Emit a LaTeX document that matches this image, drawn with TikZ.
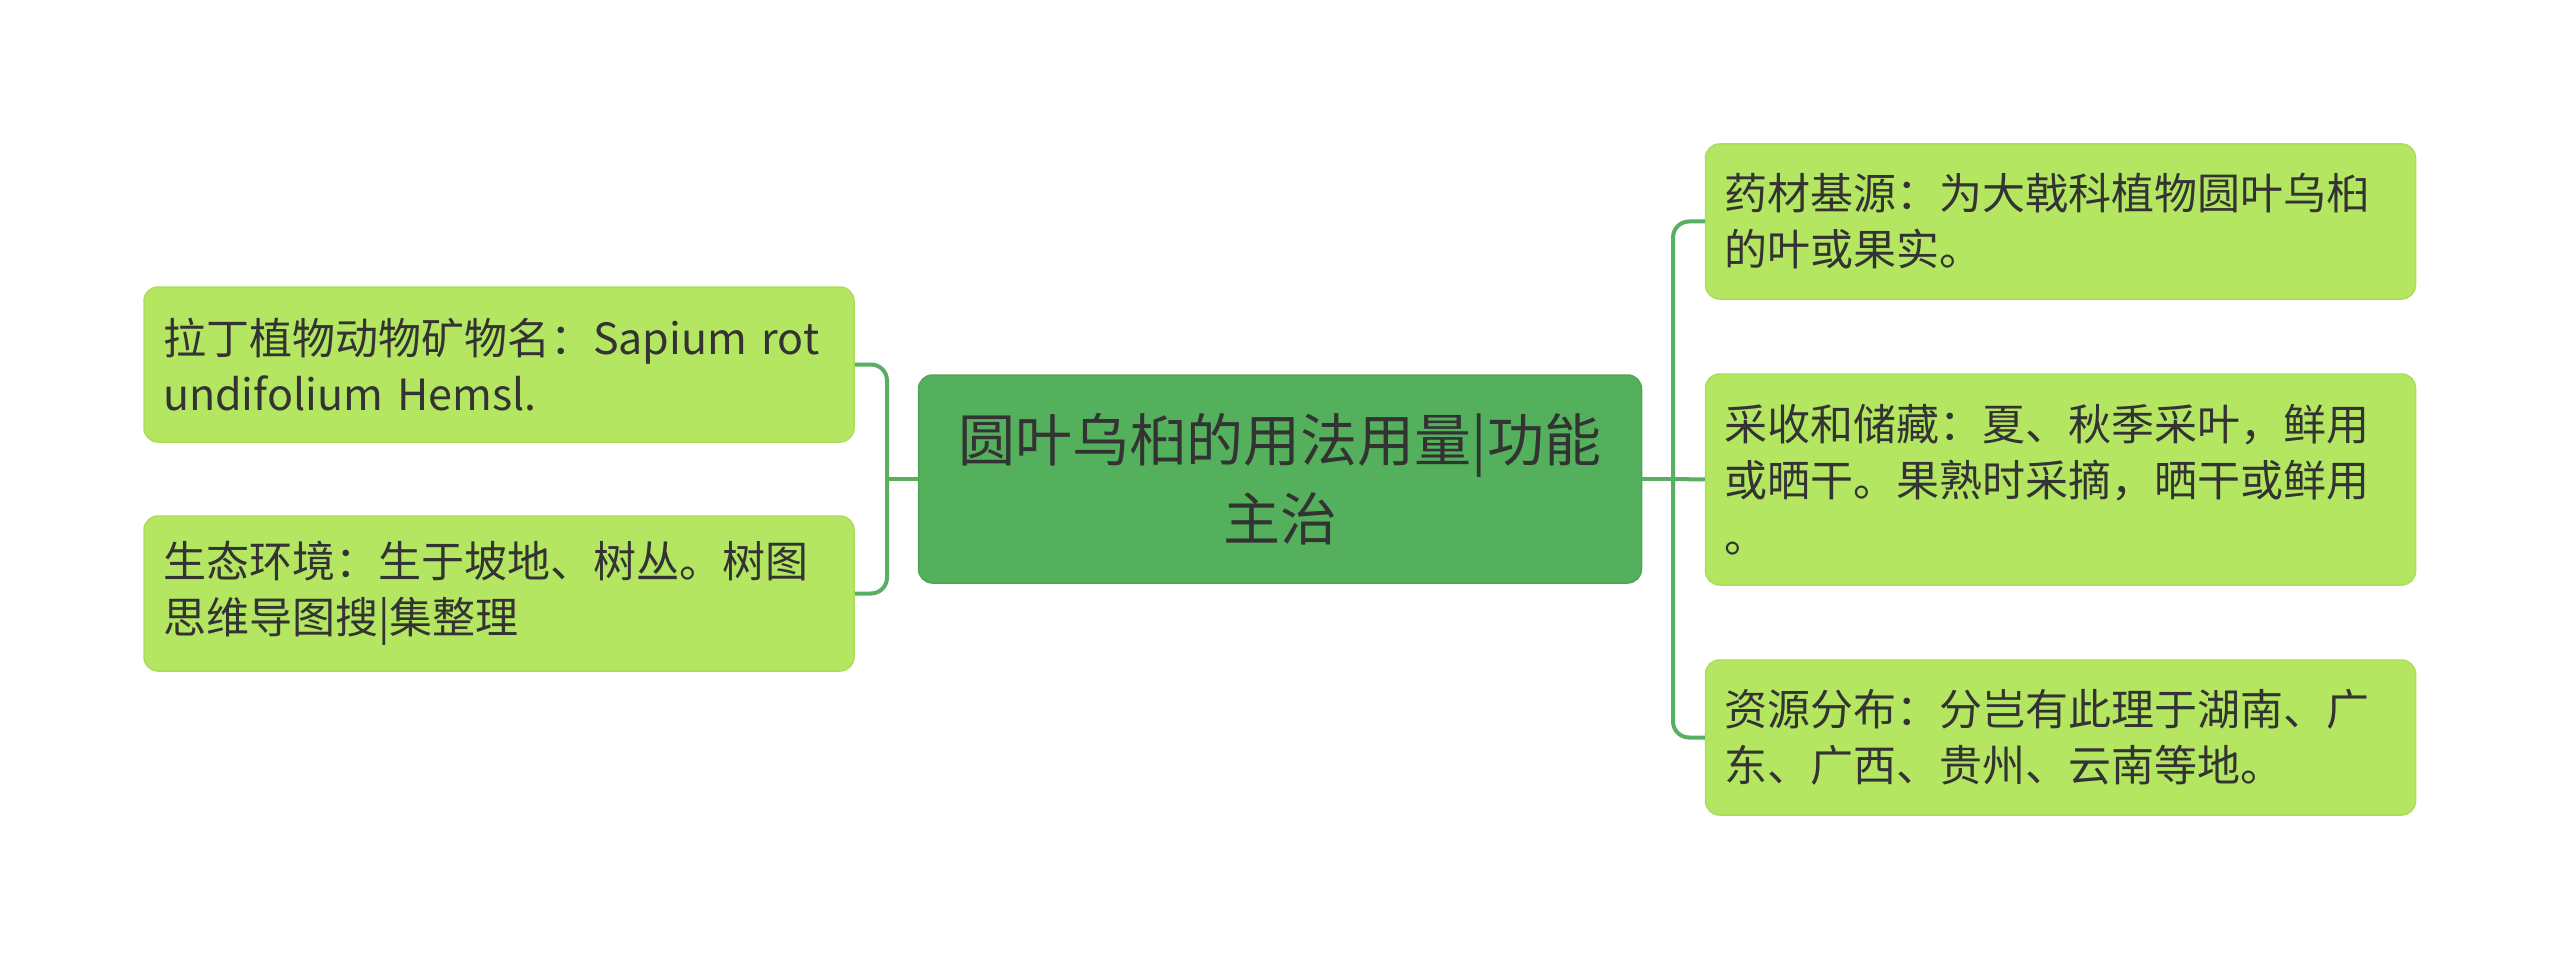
\documentclass[tikz,border=0pt]{standalone}
\usepackage{fontspec}
\setmainfont{Noto Sans CJK SC}
\definecolor{centralfill}{HTML}{54B05C}
\definecolor{centralborder}{HTML}{4CA655}
\definecolor{leaffill}{HTML}{B4E662}
\definecolor{leafborder}{HTML}{A9DE5A}
\definecolor{connclr}{HTML}{58AF62}
\definecolor{textgray}{HTML}{333333}
\begin{document}
\begin{tikzpicture}[x=1pt,y=-1pt,
  leafbox/.style={rectangle, rounded corners=14pt, fill=leaffill, draw=leafborder, line width=1.5pt,
    minimum width=710pt, minimum height=155pt, text width=672pt, align=left, inner sep=0pt,
    font=\fontsize{43}{56}\selectfont, text=textgray},
  centralbox/.style={rectangle, rounded corners=14pt, fill=centralfill, draw=centralborder, line width=1.5pt,
    minimum width=723pt, minimum height=208pt, align=center, inner sep=0pt,
    font=\fontsize{57}{79}\selectfont, text=textgray},
  conn/.style={draw=connclr, line width=4pt, rounded corners=16pt}]
\useasboundingbox[fill=white] (0,0) rectangle (2560,960);
\node[centralbox] (c) at (1280,479) {圆叶乌桕的用法用量|功能\\主治};
\node[leafbox] (l1) at (499,364.5) {拉丁植物动物矿物名：Sapium rot\\undifolium Hemsl.};
\node[leafbox] (l2) at (499,593.5) {生态环境：生于坡地、树丛。树图\\思维导图搜|集整理};
\node[leafbox] (r1) at (2060.5,221.5) {药材基源：为大戟科植物圆叶乌桕\\的叶或果实。};
\node[leafbox, minimum height=211pt] (r2) at (2060.5,479.5) {采收和储藏：夏、秋季采叶，鲜用\\或晒干。果熟时采摘，晒干或鲜用\\。};
\node[leafbox] (r3) at (2060.5,737.5) {资源分布：分岂有此理于湖南、广\\东、广西、贵州、云南等地。};
\coordinate (lj) at (887,479);
\coordinate (rj) at (1673,479);
\draw[conn] (c.west) -- (lj);
\draw[conn] (lj) |- (l1.east);
\draw[conn] (lj) |- (l2.east);
\draw[conn] (c.east) -- (rj);
\draw[conn] (rj) |- (r1.west);
\draw[conn] (rj) |- (r3.west);
\draw[conn] (rj) -- (r2.west);
\end{tikzpicture}
\end{document}
